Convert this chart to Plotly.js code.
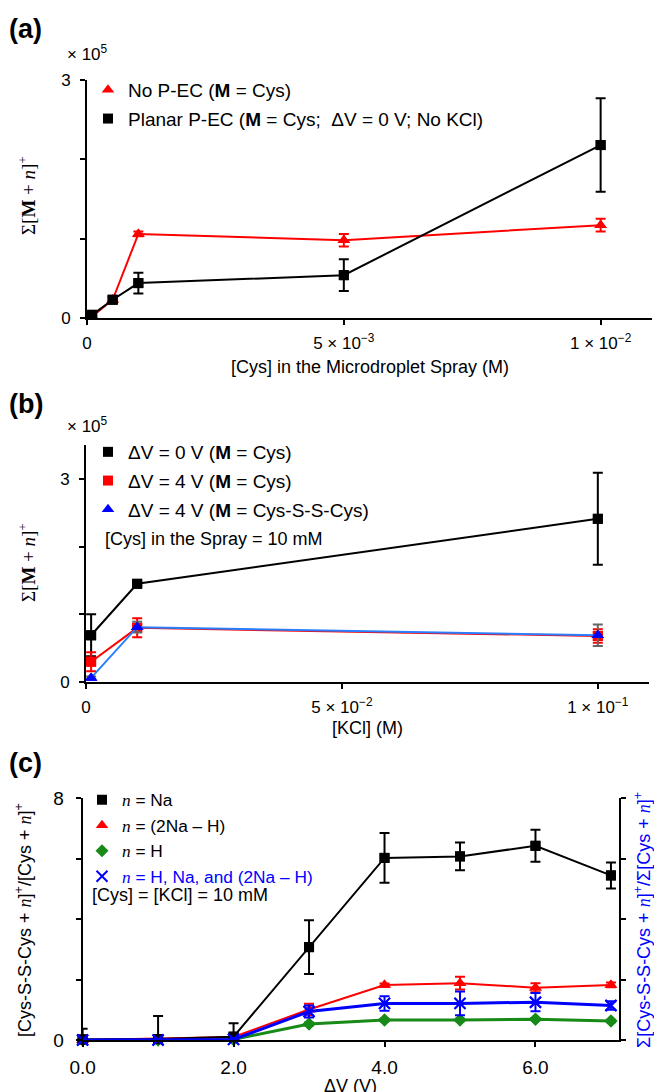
<!DOCTYPE html>
<html><head><meta charset="utf-8">
<script src="https://cdn.plot.ly/plotly-3.0.1.min.js"></script>
<style>html,body{margin:0;padding:0;background:#fff}#chart{width:654px;height:1092px}</style>
</head><body><div id="chart"></div>
<script>
// ---------- Panel (a): sum of [M + n]+ (x 10^5) vs [Cys] (M)
const cysConc = [0.0001, 0.0005, 0.001, 0.005, 0.01];
const noPEC = [0.02, 0.23, 1.06, 0.98, 1.17];
const noPECErr = [0.01, 0.02, 0.03, 0.08, 0.08];
const planarPEC = [0.04, 0.23, 0.44, 0.54, 2.18];
const planarPECErr = [0.02, 0.04, 0.13, 0.20, 0.59];
const aXTickVals = [0, 0.005, 0.01];
const aXTickText = ['0', '5 × 10<sup>−3</sup>', '1 × 10<sup>−2</sup>'];
const abYTickVals = [0, 1, 2, 3];
const abYTickText = ['0', '', '', '3'];

// ---------- Panel (b): sum of [M + n]+ (x 10^5) vs [KCl] (M)
const kclConc = [0.001, 0.01, 0.1];
const dv0 = [0.69, 1.45, 2.41];
const dv0Err = [0.31, 0.03, 0.68];
const dv4Cys = [0.30, 0.80, 0.68];
const dv4CysErr = [0.14, 0.14, 0.10];
const dv4Dimer = [0.06, 0.81, 0.69];
const dv4DimerErr = [0.02, 0.08, 0.16];
const bXTickVals = [0, 0.05, 0.1];
const bXTickText = ['0', '5 × 10<sup>−2</sup>', '1 × 10<sup>−1</sup>'];

// ---------- Panel (c): ratio vs ΔV (V)
const deltaV = [0, 1, 2, 3, 4, 5, 6, 7];
const nNa = [0.02, 0.03, 0.11, 3.07, 6.02, 6.07, 6.42, 5.44];
const nNaErr = [0.35, 0.76, 0.44, 0.89, 0.82, 0.46, 0.53, 0.43];
const n2NaH = [0.00, 0.05, 0.10, 1.01, 1.82, 1.88, 1.73, 1.82];
const n2NaHErr = [0.02, 0.03, 0.03, 0.19, 0.05, 0.21, 0.15, 0.08];
const nH = [0.00, 0.00, 0.02, 0.53, 0.66, 0.66, 0.69, 0.63];
const nHErr = [0.01, 0.01, 0.01, 0.05, 0.04, 0.04, 0.04, 0.04];
const nAll = [0.00, 0.00, 0.02, 0.94, 1.21, 1.21, 1.25, 1.14];
const nAllErr = [0.02, 0.02, 0.02, 0.20, 0.24, 0.39, 0.30, 0.14];
const cXTickVals = [0, 2, 4, 6];
const cXTickText = ['0.0', '2.0', '4.0', '6.0'];
const cYTickVals = [0, 2, 4, 6, 8];
const cYTickText = ['0', '', '', '', '8'];

const W = 654, H = 1092;
const px = v => v / W;
const py = v => 1 - v / H;
const SANS = 'Liberation Sans, Arial, sans-serif';
const SERIF = 'Liberation Serif, Times New Roman, serif';
const N = '<span style="font-family:Liberation Serif"><i>n</i></span>';

function series(o) {
  const line = {
    x: o.x, y: o.y, xaxis: o.xa, yaxis: o.ya, type: 'scatter', mode: 'lines+markers',
    line: {color: o.lineColor || o.color, width: o.lw || 2},
    marker: {symbol: o.sym, size: o.size, color: o.color, line: {color: o.color, width: o.mlw || 0}},
    error_y: {type: 'data', array: o.err, visible: true, color: o.errColor || o.color, thickness: 2, width: 5},
    showlegend: false, cliponaxis: false, hoverinfo: 'skip'
  };
  const leg = {
    x: o.x, y: o.y, xaxis: o.xa, yaxis: o.ya, type: 'scatter', mode: 'markers',
    marker: {symbol: o.sym, size: o.size, color: o.color, line: {color: o.color, width: o.mlw || 0}},
    name: o.name, legend: o.legend, legendgroup: o.name, legendrank: o.rank || 1000,
    showlegend: true, cliponaxis: false, hoverinfo: 'skip'
  };
  return [line, leg];
}

const traces = [].concat(
  series({x: cysConc, y: noPEC, err: noPECErr, color: '#ff0000', sym: 'triangle-up', size: 11, xa: 'x', ya: 'y', legend: 'legend', rank: 1,
    name: 'No P-EC (<b>M</b> = Cys)'}),
  series({x: cysConc, y: planarPEC, err: planarPECErr, color: '#000000', sym: 'square', size: 10, xa: 'x', ya: 'y', legend: 'legend', rank: 2,
    name: 'Planar P-EC (<b>M</b> = Cys;  ΔV = 0 V; No KCl)'}),
  series({x: kclConc, y: dv0, err: dv0Err, color: '#000000', sym: 'square', size: 10, xa: 'x2', ya: 'y2', legend: 'legend2', rank: 1,
    name: 'ΔV = 0 V (<b>M</b> = Cys)'}),
  series({x: kclConc, y: dv4Cys, err: dv4CysErr, color: '#ff0000', sym: 'square', size: 10, xa: 'x2', ya: 'y2', legend: 'legend2', rank: 2,
    name: 'ΔV = 4 V (<b>M</b> = Cys)'}),
  series({x: kclConc, y: dv4Dimer, err: dv4DimerErr, color: '#0000ff', lineColor: '#2a7fff', errColor: '#666666', sym: 'triangle-up', size: 11, xa: 'x2', ya: 'y2', legend: 'legend2', rank: 3,
    name: 'ΔV = 4 V (<b>M</b> = Cys-S-S-Cys)'}),
  series({x: deltaV, y: nH, err: nHErr, color: '#178a17', sym: 'diamond', size: 10, lw: 3, xa: 'x3', ya: 'y3', legend: 'legend3', rank: 3,
    name: N + ' = H'}),
  series({x: deltaV, y: nAll, err: nAllErr, color: '#0000ff', sym: 'x-thin-open', size: 11, mlw: 2, lw: 3, xa: 'x3', ya: 'y4', legend: 'legend3', rank: 4,
    name: '<span style="color:#0000ff">' + N + ' = H, Na, and (2Na – H)</span>'}),
  series({x: deltaV, y: n2NaH, err: n2NaHErr, color: '#ff0000', sym: 'triangle-up', size: 11, xa: 'x3', ya: 'y3', legend: 'legend3', rank: 2,
    name: N + ' = (2Na – H)'}),
  series({x: deltaV, y: nNa, err: nNaErr, color: '#000000', sym: 'square', size: 10, xa: 'x3', ya: 'y3', legend: 'legend3', rank: 1,
    name: N + ' = Na'})
);

const baseAxis = {
  showline: true, linecolor: '#000', linewidth: 2, mirror: false,
  ticks: 'outside', ticklen: 5, tickwidth: 2, tickcolor: '#000',
  showgrid: false, zeroline: false, automargin: false, fixedrange: true,
  tickfont: {family: SANS, size: 17, color: '#000'}
};
function axis(extra) { return Object.assign({}, baseAxis, extra); }

const legendBase = {
  bgcolor: 'rgba(0,0,0,0)', borderwidth: 0, xanchor: 'left', yanchor: 'top',
  font: {family: SANS, size: 19, color: '#000'}, traceorder: 'grouped', itemclick: false, itemdoubleclick: false
};

function ann(text, x, y, extra) {
  return Object.assign({text: text, x: px(x), y: py(y), xref: 'paper', yref: 'paper', showarrow: false,
    xanchor: 'center', yanchor: 'middle',
    font: {family: SANS, size: 18, color: '#000'}}, extra || {});
}

const layout = {
  width: W, height: H,
  margin: {l: 0, r: 0, t: 0, b: 0},
  paper_bgcolor: '#fff', plot_bgcolor: 'rgba(0,0,0,0)',
  showlegend: true,
  xaxis: axis({domain: [px(87), px(652)], range: [0, 0.011], anchor: 'y', tickvals: aXTickVals, ticktext: aXTickText, ticklabelstandoff: 4}),
  yaxis: axis({domain: [py(318), py(80)], range: [0, 3], anchor: 'x', tickvals: abYTickVals, ticktext: abYTickText, ticklabelstandoff: 6}),
  xaxis2: axis({domain: [px(86), px(649)], range: [0, 0.11], anchor: 'y2', tickvals: bXTickVals, ticktext: bXTickText, ticklabelstandoff: 4}),
  yaxis2: axis({domain: [py(682), py(445)], range: [0, 3.5], anchor: 'x2', tickvals: abYTickVals, ticktext: abYTickText, ticklabelstandoff: 6}),
  xaxis3: axis({domain: [px(82.6), px(618.5)], range: [0, 7.1], anchor: 'y3', tickvals: cXTickVals, ticktext: cXTickText, ticklabelstandoff: 4, tickfont: {family: SANS, size: 19, color: '#000'}}),
  yaxis3: axis({domain: [py(1040), py(798)], range: [0, 8], anchor: 'x3', tickvals: cYTickVals, ticktext: cYTickText, ticklabelstandoff: 8, tickfont: {family: SANS, size: 19, color: '#000'}}),
  yaxis4: axis({domain: [py(1040), py(798)], range: [0, 8], anchor: 'x3', overlaying: 'y3', side: 'right', tickvals: cYTickVals, showticklabels: false}),
  legend: Object.assign({}, legendBase, {x: px(88), y: py(71), tracegroupgap: 1}),
  legend2: Object.assign({}, legendBase, {x: px(88), y: py(433), tracegroupgap: 1}),
  legend3: Object.assign({}, legendBase, {x: px(82), y: py(782), tracegroupgap: 0, font: {family: SANS, size: 17.3, color: '#000'}}),
  annotations: [
    ann('<b>(a)</b>', 7, 29, {xanchor: 'left', font: {family: SANS, size: 27, color: '#000'}}),
    ann('<b>(b)</b>', 7, 404, {xanchor: 'left', font: {family: SANS, size: 27, color: '#000'}}),
    ann('<b>(c)</b>', 7, 763, {xanchor: 'left', font: {family: SANS, size: 27, color: '#000'}}),
    ann('× 10<sup>5</sup>', 87, 53, {font: {family: SANS, size: 17, color: '#000'}}),
    ann('× 10<sup>5</sup>', 87, 425, {font: {family: SANS, size: 17, color: '#000'}}),
    ann('[Cys] in the Microdroplet Spray (M)', 370, 367),
    ann('[KCl] (M)', 367, 728),
    ann('ΔV (V)', 350, 1086),
    ann('Σ[<b>M</b> + <i>n</i>]<sup>+</sup>', 27, 196, {textangle: -90, font: {family: SERIF, size: 19, color: '#000'}}),
    ann('Σ[<b>M</b> + <i>n</i>]<sup>+</sup>', 27, 563, {textangle: -90, font: {family: SERIF, size: 19, color: '#000'}}),
    ann('[Cys-S-S-Cys + ' + N + ']<sup>+</sup>/[Cys + ' + N + ']<sup>+</sup>', 23, 920, {textangle: -90}),
    ann('Σ[Cys-S-S-Cys + ' + N + ']<sup>+</sup>/Σ[Cys + ' + N + ']<sup>+</sup>', 642, 920, {textangle: -90, font: {family: SANS, size: 18, color: '#0000ff'}}),
    ann('[Cys] in the Spray = 10 mM', 103, 539, {xanchor: 'left'}),
    ann('[Cys] = [KCl] = 10 mM', 90, 895, {xanchor: 'left'})
  ]
};

Plotly.newPlot('chart', traces, layout, {staticPlot: true, displayModeBar: false});
</script>
</body></html>
